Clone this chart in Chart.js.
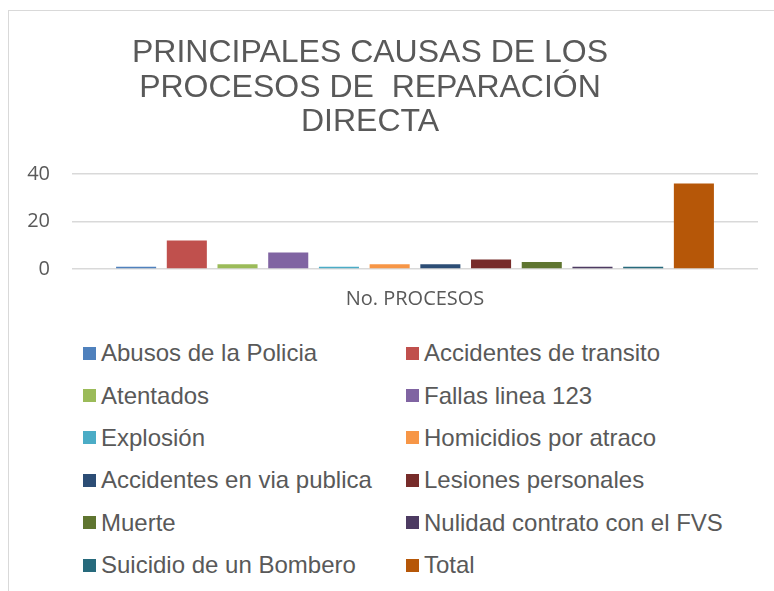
<!DOCTYPE html>
<html>
<head>
<meta charset="utf-8">
<script src="https://cdn.jsdelivr.net/npm/chart.js@4/dist/chart.umd.min.js"></script>
<style>
  html, body { margin: 0; padding: 0; background: #fff; overflow: hidden; width: 774px; height: 591px; }
  #frame { position: absolute; left: 8px; top: 10px; width: 900px; height: 700px;
           border-left: 1px solid #d9d9d9; border-top: 1px solid #d9d9d9; }
  #wrap { position: absolute; left: 0; top: 0; width: 774px; height: 330px; }
  #legend { position: absolute; left: 83px; top: 332px; display: grid;
            grid-template-columns: 323px 320px; grid-auto-rows: 42.4px; }
  .item { display: flex; align-items: center; font-family: "Liberation Sans", Arial, sans-serif;
          font-size: 24px; color: #595959; white-space: nowrap; }
  .box { width: 13px; height: 13px; margin-right: 5px; flex: none; }
</style>
</head>
<body>
<div id="frame"></div>
<div id="wrap"><canvas id="c" width="774" height="330"></canvas></div>
<div id="legend"></div>
<script>
const titleLines = ['PRINCIPALES CAUSAS DE LOS', 'PROCESOS DE  REPARACIÓN', 'DIRECTA'];
const categories = ['No. PROCESOS'];
const seriesNames = [
  'Abusos de la Policia', 'Accidentes de transito', 'Atentados', 'Fallas linea 123',
  'Explosión', 'Homicidios por atraco', 'Accidentes en via publica', 'Lesiones personales',
  'Muerte', 'Nulidad contrato con el FVS', 'Suicidio de un Bombero', 'Total'
];
const seriesValues = [1, 12, 2, 7, 1, 2, 2, 4, 3, 1, 1, 36];
const seriesColors = [
  '#4F81BD', '#C0504D', '#9BBB59', '#8064A2', '#4BACC6', '#F79646',
  '#2C4D75', '#772C2A', '#5F7530', '#4D3B62', '#276A7C', '#B65708'
];
const yTicks = [0, 20, 40];

const titlePlugin = {
  id: 'multiTitle',
  afterDraw(chart) {
    const ctx = chart.ctx;
    ctx.save();
    ctx.font = '32px "Liberation Sans", Arial, sans-serif';
    ctx.fillStyle = '#595959';
    ctx.textAlign = 'center';
    ctx.textBaseline = 'alphabetic';
    titleLines.forEach((t, i) => ctx.fillText(t, 370, 62 + i * 34.5));
    ctx.restore();
  }
};

const htmlLegend = {
  id: 'htmlLegend',
  afterUpdate(chart) {
    const el = document.getElementById('legend');
    el.innerHTML = '';
    chart.data.datasets.forEach(ds => {
      const item = document.createElement('div');
      item.className = 'item';
      const box = document.createElement('span');
      box.className = 'box';
      box.style.background = ds.backgroundColor;
      const txt = document.createElement('span');
      txt.textContent = ds.label;
      item.appendChild(box);
      item.appendChild(txt);
      el.appendChild(item);
    });
  }
};

new Chart(document.getElementById('c'), {
  type: 'bar',
  data: {
    labels: categories,
    datasets: seriesNames.map((n, i) => ({
      label: n,
      data: [seriesValues[i]],
      backgroundColor: seriesColors[i],
      categoryPercentage: 0.887,
      barPercentage: 0.79
    }))
  },
  options: {
    responsive: false,
    animation: false,
    layout: { padding: { left: 9, right: 16, top: 174, bottom: 19 } },
    plugins: { legend: { display: false }, title: { display: false }, tooltip: { enabled: false } },
    scales: {
      x: {
        afterFit(scale) { scale.height = 42; },
        grid: { display: false, drawTicks: false },
        border: { display: false },
        ticks: { padding: 18, color: '#595959', font: { family: '"Open Sans"', size: 20 } }
      },
      y: {
        min: 0, max: 40,
        afterFit(scale) { scale.width = 63; },
        afterBuildTicks(scale) { scale.ticks = yTicks.map(v => ({ value: v })); },
        grid: { color: '#d9d9d9', lineWidth: 1.5, drawTicks: false },
        border: { display: false },
        ticks: { padding: 22, color: '#595959', font: { family: '"Open Sans"', size: 20 } }
      }
    }
  },
  plugins: [titlePlugin, htmlLegend]
});
</script>
</body>
</html>
